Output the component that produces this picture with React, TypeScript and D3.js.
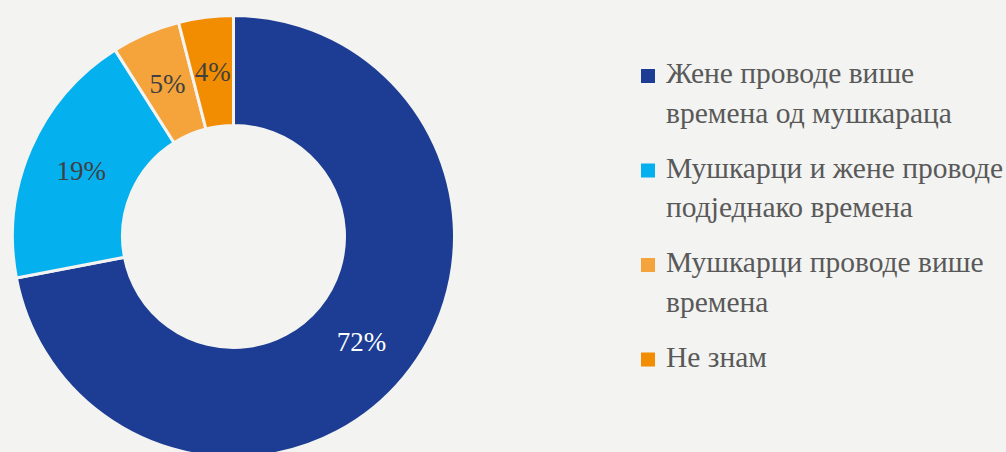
import React from "react";
import * as d3 from "d3";

const categories = [
  "Жене проводе више времена од мушкараца",
  "Мушкарци и жене проводе подједнако времена",
  "Мушкарци проводе више времена",
  "Не знам",
];
const legendLines = [
  ["Жене проводе више", "времена од мушкараца"],
  ["Мушкарци и жене проводе", "подједнако времена"],
  ["Мушкарци проводе више", "времена"],
  ["Не знам"],
];
const values = [72, 19, 5, 4];
const labels = ["72%", "19%", "5%", "4%"];
const colors = ["#1c3d93", "#05b0ef", "#f4a43a", "#f28c00"];
const labelColors = ["#ffffff", "#404040", "#404040", "#404040"];

const W = 1006;
const H = 452;
const cx = 233.5;
const cy = 236.5;
const R = 221;
const r = 111;
const FONT = "'Liberation Serif', 'Times New Roman', serif";

export default function App() {
  const pie = d3.pie<number>().sort(null).value((d) => d)(values);
  const arc = d3.arc<d3.PieArcDatum<number>>().innerRadius(r).outerRadius(R);
  const labelArc = d3
    .arc<d3.PieArcDatum<number>>()
    .innerRadius((R + r) / 2)
    .outerRadius((R + r) / 2);

  const legendX = 641;
  const textX = 666;
  const lineH = 39.5;
  const itemGap = 55;
  let y = 83;
  const items = legendLines.map((lines, i) => {
    const startY = y;
    y += (lines.length - 1) * lineH + itemGap;
    return { lines, startY, i };
  });

  return (
    <svg
      width={W}
      height={H}
      style={{ position: "absolute", left: 0, top: 0, background: "#f3f3f1" }}
    >
      <rect width={W} height={H} fill="#f3f3f1" />
      <g transform={`translate(${cx},${cy})`}>
        {pie.map((d, i) => (
          <path
            key={i}
            d={arc(d) || ""}
            fill={colors[i]}
            stroke="#f3f3f1"
            strokeWidth={3}
          >
            <title>{categories[i]}</title>
          </path>
        ))}
        {pie.map((d, i) => {
          const [x, yy] = labelArc.centroid(d);
          return (
            <text
              key={i}
              x={x}
              y={yy}
              textAnchor="middle"
              dominantBaseline="central"
              fontFamily={FONT}
              fontSize={27}
              fill={labelColors[i]}
            >
              {labels[i]}
            </text>
          );
        })}
      </g>
      {items.map(({ lines, startY, i }) => (
        <g key={i}>
          <rect
            x={legendX}
            y={startY - 14}
            width={14}
            height={14}
            fill={colors[i]}
          />
          {lines.map((ln, j) => (
            <text
              key={j}
              x={textX}
              y={startY + j * lineH}
              fontFamily={FONT}
              fontSize={29.5}
              fill="#595959"
            >
              {ln}
            </text>
          ))}
        </g>
      ))}
    </svg>
  );
}
